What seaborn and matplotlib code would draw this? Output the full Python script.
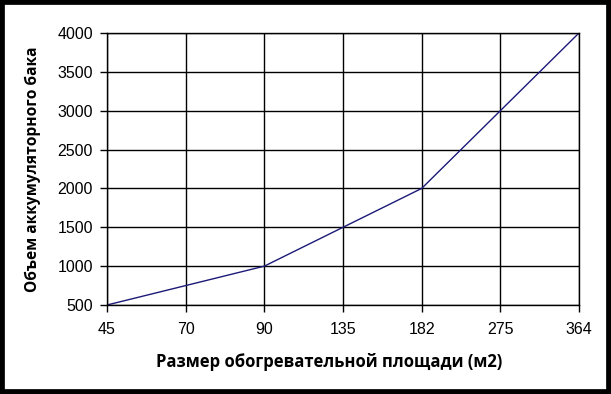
import matplotlib
matplotlib.use("Agg")
import matplotlib.pyplot as plt
import seaborn as sns
import pandas as pd
from matplotlib.patches import Rectangle

areas = ["45", "70", "90", "135", "182", "275", "364"]
volumes = [500, 750, 1000, 1500, 2000, 3000, 4000]
yticks = [500, 1000, 1500, 2000, 2500, 3000, 3500, 4000]

df = pd.DataFrame({"area": areas, "volume": volumes})

sns.set_style("white")
plt.rcParams['font.family'] = ['Liberation Sans', 'DejaVu Sans']

fig = plt.figure(figsize=(6.11, 3.94), dpi=100)
ax = fig.add_axes([107/611, 1-305/394, (579-107)/611, (305-33)/394])

sns.lineplot(data=df, x="area", y="volume", ax=ax, color="#1c1a78", linewidth=1.0)

ax.set_xlim(0, len(areas)-1)
ax.set_ylim(500, 4000)
ax.set_yticks(yticks)
ax.grid(True, color="black", linewidth=1.0)
ax.set_axisbelow(True)
for s in ax.spines.values():
    s.set_color("black")
    s.set_linewidth(1.0)
ax.tick_params(axis="both", which="both", direction="out", length=5, width=1,
               color="black", labelcolor="black", labelsize=11.5, bottom=True, left=True)
ax.tick_params(axis="x", pad=7)
ax.tick_params(axis="y", pad=5)

ax.set_xlabel("Размер обогревательной площади (м2)", fontsize=12, fontweight="bold",
              family=["Open Sans", "DejaVu Sans"], labelpad=12, color="black")
ax.xaxis.label.set_x(0.47)
ax.set_ylabel("Объем аккумуляторного бака", fontsize=11.2, fontweight="bold",
              family=["Open Sans", "DejaVu Sans"], labelpad=12, color="black")

fig.patches.append(Rectangle((0, 0), 1, 1, transform=fig.transFigure, fill=False,
                             edgecolor="black", linewidth=7, zorder=10))

fig.savefig("out.png", dpi=100)
